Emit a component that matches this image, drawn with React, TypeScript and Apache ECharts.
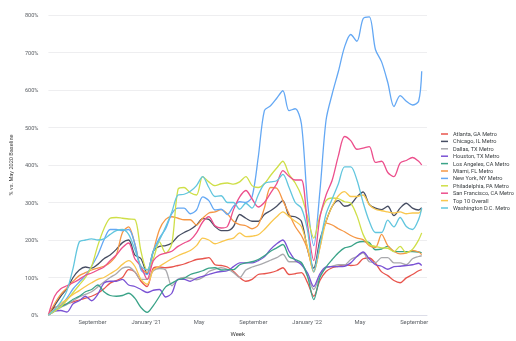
import React, { useEffect, useRef } from 'react';
import * as echarts from 'echarts';

const weeks = [
  '2020-05-24','2020-06-07','2020-06-21','2020-07-05','2020-07-19','2020-08-02','2020-08-16','2020-08-30',
  '2020-09-13','2020-09-27','2020-10-11','2020-10-25','2020-11-08','2020-11-22','2020-12-06','2020-12-20',
  '2021-01-03','2021-01-17','2021-01-31','2021-02-14','2021-02-28','2021-03-14','2021-03-28','2021-04-11',
  '2021-04-25','2021-05-09','2021-05-23','2021-06-06','2021-06-20','2021-07-04','2021-07-18','2021-08-01',
  '2021-08-15','2021-08-29','2021-09-12','2021-09-26','2021-10-10','2021-10-24','2021-11-07','2021-11-21',
  '2021-12-05','2021-12-19','2022-01-02','2022-01-16','2022-01-30','2022-02-13','2022-02-27','2022-03-13',
  '2022-03-27','2022-04-10','2022-04-24','2022-05-08','2022-05-22','2022-06-05','2022-06-19','2022-07-03',
  '2022-07-17','2022-07-31','2022-08-14','2022-08-28','2022-09-11','2022-09-18'
];

const xTickDates = ['2020-09-01', '2021-01-01', '2021-05-01', '2021-09-01', '2022-01-01', '2022-05-01', '2022-09-01'];
const xTickLabels = ['September', "January '21", 'May', 'September', "January '22", 'May', 'September'];

const atlanta = [0,20,25,30,35,40,45,50,58,70,85,92,100,121,115,90,76,125,128,126,128,132,136,142,148,150,153,134,132,128,116,100,90,95,108,110,113,118,126,108,110,113,86,50,92,116,126,130,134,132,134,150,152,138,115,105,92,86,99,108,118,121];
const chicago = [0,25,50,70,100,120,128,125,135,150,160,175,193,200,160,150,110,170,183,185,192,210,220,228,240,257,255,236,225,225,236,268,258,250,250,268,278,290,305,265,262,250,175,125,200,250,290,305,290,295,315,328,295,285,281,290,265,285,298,285,280,286];
const dallas = [0,10,20,28,38,48,55,62,75,88,100,110,125,128,115,95,95,118,124,120,78,95,100,98,94,100,116,122,126,122,113,100,120,128,133,139,146,153,162,142,142,138,103,68,105,126,130,134,134,148,156,166,142,140,153,153,139,139,134,150,156,158];
const houston = [0,10,12,8,30,38,50,38,55,85,90,90,95,80,76,68,60,66,68,48,58,95,95,90,98,103,108,113,116,118,129,139,139,139,145,155,175,190,200,170,146,134,112,76,110,128,129,129,130,139,156,168,150,134,130,122,129,130,132,134,138,132];
const losAngeles = [0,12,22,30,42,50,62,68,80,62,52,50,52,58,45,20,7,25,50,75,85,94,98,108,113,118,125,126,120,121,121,134,139,142,148,158,170,179,188,156,148,140,103,41,100,128,148,166,179,183,193,196,193,174,176,183,169,169,169,169,168,166];
const miami = [0,30,55,72,90,105,113,120,125,130,140,160,220,235,190,125,113,170,228,255,262,258,254,254,240,258,272,275,281,270,250,241,238,230,240,285,340,338,305,270,236,212,175,115,180,245,240,230,222,212,205,201,185,180,215,185,170,163,165,172,168,161];
const newYork = [0,10,25,45,70,88,105,130,160,200,228,228,225,228,190,120,108,170,205,230,270,285,285,270,280,315,305,280,282,268,290,302,300,315,420,545,558,578,598,545,550,510,300,185,330,520,590,650,715,748,730,790,795,708,675,620,556,585,570,560,570,650];
const philadelphia = [0,10,22,40,60,80,100,130,185,230,258,260,258,256,255,170,120,150,195,165,190,335,340,326,320,369,355,345,350,352,349,355,369,345,340,350,372,392,410,375,352,318,262,205,265,305,312,310,302,298,265,215,188,183,179,178,169,183,166,175,200,219];
const sanFrancisco = [0,50,70,78,86,95,106,112,120,128,145,160,180,192,150,130,95,145,160,165,170,183,192,200,219,248,262,238,232,236,281,315,332,310,288,300,325,350,385,370,360,360,240,145,260,320,360,425,476,465,442,445,449,407,410,380,369,405,412,420,410,400];
const top10 = [0,15,30,42,55,65,76,86,95,100,110,120,135,145,130,95,82,120,130,140,150,158,165,172,185,205,200,190,195,201,205,219,209,210,214,228,246,262,275,262,250,236,180,115,180,250,290,318,329,316,316,320,294,282,278,275,272,275,270,272,272,282];
const washington = [0,15,35,65,125,195,200,203,200,203,215,225,228,215,175,130,120,170,200,235,275,320,322,330,345,369,340,316,318,300,300,282,298,285,320,350,355,358,375,340,300,285,225,115,190,270,310,350,395,395,360,300,250,220,220,253,235,260,236,228,255,285];

const seriesNames = [
  'Atlanta, GA Metro', 'Chicago, IL Metro', 'Dallas, TX Metro', 'Houston, TX Metro',
  'Los Angeles, CA Metro', 'Miami, FL Metro', 'New York, NY Metro', 'Philadelphia, PA Metro',
  'San Francisco, CA Metro', 'Top 10 Overall', 'Washington D.C. Metro'
];
const seriesValues = [atlanta, chicago, dallas, houston, losAngeles, miami, newYork, philadelphia, sanFrancisco, top10, washington];
const seriesColors = ['#e8544c', '#474e63', '#a9a9ad', '#7a52d4', '#3aa388', '#f59745', '#64a8f4', '#cfdf48', '#ec4f8c', '#f9c74e', '#62c6de'];

export default function App() {
  const ref = useRef<HTMLDivElement>(null);
  useEffect(() => {
    if (!ref.current) return;
    const chart = echarts.init(ref.current, null, { renderer: 'svg' });
    const tickMap: Record<string, string> = {};
    xTickDates.forEach((d, i) => {
      const dt = new Date(d + 'T00:00:00');
      tickMap[dt.getFullYear() + '-' + dt.getMonth()] = xTickLabels[i];
    });
    const option: any = {
      animation: false,
      textStyle: { fontFamily: 'Roboto' },
      grid: { left: 42, right: 89, top: 15, bottom: 25.5 },
      legend: {
        orient: 'vertical',
        left: 436,
        top: 126,
        icon: 'rect',
        itemWidth: 7,
        itemHeight: 1.5,
        itemGap: 1.4,
        textStyle: { fontSize: 5.6, color: '#3c4043' },
        data: seriesNames,
      },
      xAxis: {
        type: 'time',
        min: '2020-05-24',
        max: '2022-09-30',
        splitNumber: 30,
        maxInterval: 31 * 86400000,
        axisLine: { lineStyle: { color: '#dcdde8', width: 1 } },
        axisTick: { show: false },
        splitLine: { show: false },
        axisLabel: {
          fontSize: 5.8,
          color: '#5f6368',
          margin: 4,
          hideOverlap: false,
          formatter: (v: number) => {
            const d = new Date(v);
            if (d.getDate() !== 1 || d.getHours() !== 0) return '';
            return tickMap[d.getFullYear() + '-' + d.getMonth()] || '';
          },
        },
        name: 'Week',
        nameLocation: 'middle',
        nameGap: 15,
        nameTextStyle: { fontSize: 6, color: '#444' },
      },
      yAxis: {
        type: 'value',
        min: 0,
        max: 800,
        interval: 100,
        axisLine: { show: false },
        axisTick: { show: false },
        axisLabel: { formatter: '{value}%', fontSize: 5.6, color: '#5f6368', margin: 10 },
        splitLine: { lineStyle: { color: '#eeeef0', width: 1 } },
        name: '% vs. May 2020 Baseline',
        nameLocation: 'middle',
        nameGap: 28,
        nameTextStyle: { fontSize: 5.6, color: '#444' },
      },
      series: seriesNames.map((name, i) => ({
        name,
        type: 'line',
        data: weeks.map((w, j) => [w, seriesValues[i][j]]),
        showSymbol: false,
        smooth: 0.3,
        color: seriesColors[i],
        lineStyle: { width: 1.3, color: seriesColors[i] },
      })),
    };
    chart.setOption(option);
    return () => chart.dispose();
  }, []);
  return <div ref={ref} style={{ position: 'fixed', left: 0, top: 0, width: 516, height: 341 }} />;
}
